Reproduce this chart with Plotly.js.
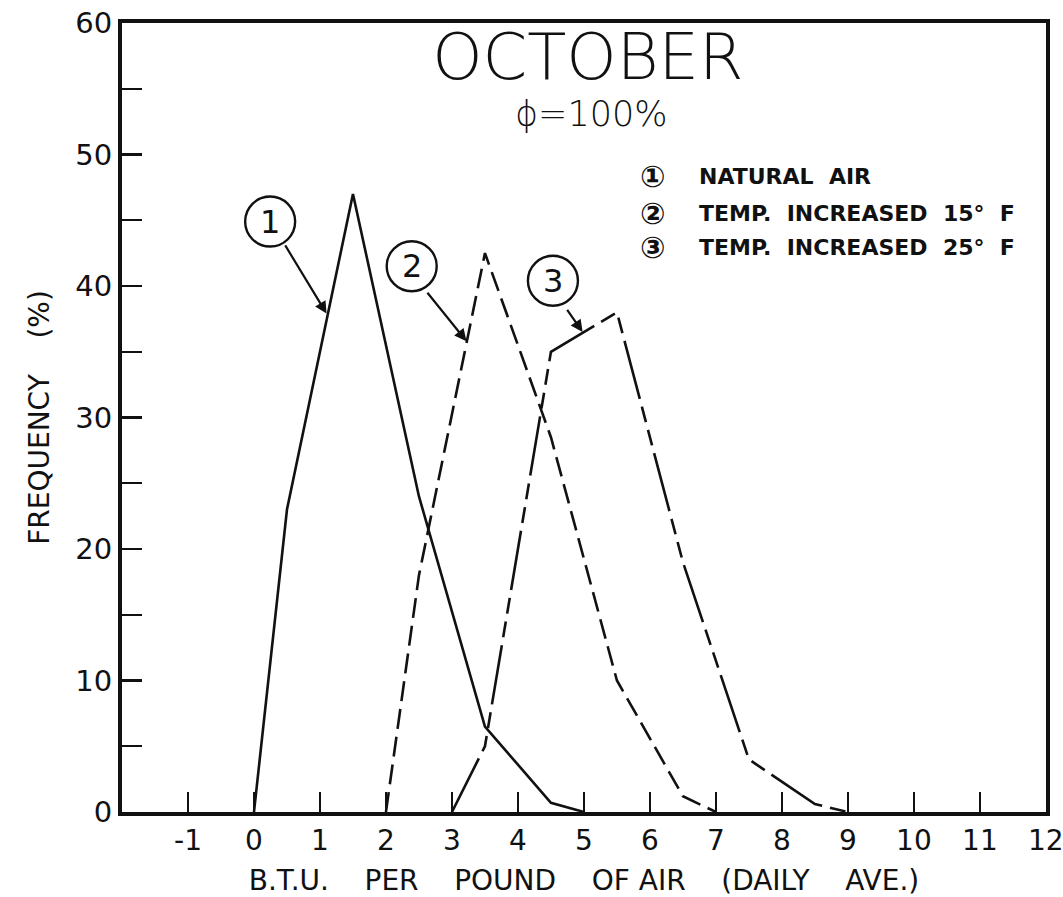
<!DOCTYPE html>
<html>
<head>
<meta charset="utf-8">
<script src="https://cdn.plot.ly/plotly-3.0.1.min.js"></script>
<style>
  html, body { margin: 0; padding: 0; background: #fff; }
  #chart { width: 1063px; height: 897px; }
</style>
</head>
<body>
<div id="chart"></div>
<script>
// ---- data ----
const naturalX = [0, 0.5, 1.5, 2.5, 3.5, 4.5, 5];
const naturalY = [0, 23, 47, 24, 6.5, 0.7, 0];

const temp15X = [2, 2.5, 3.5, 4.5, 5.5, 6.5, 7];
const temp15Y = [0, 18, 42.5, 28.5, 10, 1.2, 0];

const temp25X = [3, 3.5, 4.5, 5.5, 6.5, 7.5, 8.5, 9];
const temp25Y = [0, 5, 35, 38, 19, 4, 0.6, 0];

const seriesNames = ["NATURAL AIR", "TEMP. INCREASED 15° F", "TEMP. INCREASED 25° F"];
const seriesMarks = ["①", "②", "③"];
const curveLabels = ["1", "2", "3"];

const xTickVals = [-1, 0, 1, 2, 3, 4, 5, 6, 7, 8, 9, 10, 11, 12];
const xTickText = ["-1", "0", "1", "2", "3", "4", "5", "6", "7", "8", "9", "10", "11", "12"];
const yTickVals = [0, 10, 20, 30, 40, 50, 60];

const titleText = "OCTOBER";
const subtitleText = "ϕ=100%";
const xTitle = "B.T.U.\u00a0\u00a0\u00a0 PER\u00a0\u00a0\u00a0 POUND\u00a0\u00a0\u00a0 OF\u00a0AIR\u00a0\u00a0\u00a0 (DAILY\u00a0\u00a0\u00a0 AVE.)";
const yTitle = "FREQUENCY\u00a0\u00a0\u00a0 (%)";

// ---- styling ----
const FONT = "DejaVu Sans, Liberation Sans, sans-serif";
const INK = "#111";

const traces = [
  { x: naturalX, y: naturalY, name: seriesNames[0], mode: "lines",
    line: { color: INK, width: 2.6, dash: "solid" } },
  { x: temp15X, y: temp15Y, name: seriesNames[1], mode: "lines",
    line: { color: INK, width: 2.6, dash: "20px,8px" } },
  { x: temp25X, y: temp25Y, name: seriesNames[2], mode: "lines",
    line: { color: INK, width: 2.6, dash: "60px,8px,16px,8px,16px,8px" } }
];

// curve label circles + arrows (positions in data units)
const labelCenters = [[0.245, 44.9], [2.39, 41.5], [4.53, 40.4]];
const arrowTails = [[0.46, 43.2], [2.61, 39.6], [4.73, 38.3]];
const arrowTips = [[1.1, 37.9], [3.22, 35.8], [4.98, 36.5]];

const shapes = labelCenters.map(c => ({
  type: "circle", xref: "x", yref: "y",
  xsizemode: "pixel", ysizemode: "pixel",
  xanchor: c[0], yanchor: c[1],
  x0: -25, x1: 25, y0: -25, y1: 25,
  line: { color: INK, width: 2.4 }
}));

const annotations = [];
labelCenters.forEach((c, i) => {
  annotations.push({
    x: c[0], y: c[1], xref: "x", yref: "y", text: curveLabels[i],
    showarrow: false, font: { family: FONT, size: 32, color: INK },
    xanchor: "center", yanchor: "middle"
  });
  annotations.push({
    x: arrowTips[i][0], y: arrowTips[i][1], xref: "x", yref: "y",
    ax: arrowTails[i][0], ay: arrowTails[i][1], axref: "x", ayref: "y",
    text: "", showarrow: true, arrowhead: 2, arrowsize: 1.1, arrowwidth: 2.2,
    arrowcolor: INK, standoff: 0, startstandoff: 0
  });
});

// legend (drawn as text like the original key)
const legendRowsY = [48.3, 45.55, 42.9];
seriesNames.forEach((n, i) => {
  annotations.push({
    x: 6.04, y: legendRowsY[i], xref: "x", yref: "y", text: seriesMarks[i],
    showarrow: false, xanchor: "center", yanchor: "middle",
    font: { family: FONT, size: 30, color: INK, weight: "bold" }
  });
  annotations.push({
    x: 6.72, y: legendRowsY[i], xref: "x", yref: "y", text: n.replace(/ /g, "\u00a0\u00a0"),
    showarrow: false, xanchor: "left", yanchor: "middle",
    font: { family: FONT, size: 22, color: INK, weight: "bold" }
  });
});

annotations.push({
  x: 5.1, y: 53.1, xref: "x", yref: "y", text: subtitleText,
  showarrow: false, xanchor: "center", yanchor: "middle",
  font: { family: FONT, size: 35, color: INK, weight: 300 }
});

const layout = {
  width: 1063, height: 897,
  paper_bgcolor: "#fff", plot_bgcolor: "#fff",
  margin: { l: 122, r: 17, t: 23, b: 85 },
  showlegend: false,
  title: {
    text: titleText, xref: "container", yref: "container",
    x: 0.553, y: 0.937, xanchor: "center", yanchor: "middle",
    font: { family: FONT, size: 64, color: INK, weight: 200 }
  },
  xaxis: {
    range: [-2, 12.002], tickmode: "array", tickvals: xTickVals, ticktext: xTickText,
    ticks: "inside", ticklen: 20, tickwidth: 2.4, tickcolor: INK,
    showline: true, linewidth: 4, linecolor: INK, mirror: true,
    showgrid: false, zeroline: false, automargin: false, ticklabeloverflow: "allow",
    tickfont: { family: FONT, size: 28, color: INK },
    title: { text: xTitle, font: { family: FONT, size: 28, color: INK }, standoff: 18 }
  },
  yaxis: {
    range: [0, 60.001], tickmode: "array", tickvals: yTickVals,
    ticks: "inside", ticklen: 20, tickwidth: 2.4, tickcolor: INK,
    minor: { tickmode: "linear", tick0: 0, dtick: 5, ticks: "inside", ticklen: 20, tickwidth: 2.4, tickcolor: INK },
    showline: true, linewidth: 4, linecolor: INK, mirror: true,
    showgrid: false, zeroline: false, automargin: false, ticklabeloverflow: "allow",
    tickfont: { family: FONT, size: 29, color: INK },
    title: { text: yTitle, font: { family: FONT, size: 28, color: INK }, standoff: 18 }
  },
  shapes: shapes,
  annotations: annotations
};

Plotly.newPlot("chart", traces, layout, { displayModeBar: false, staticPlot: true });
</script>
</body>
</html>
